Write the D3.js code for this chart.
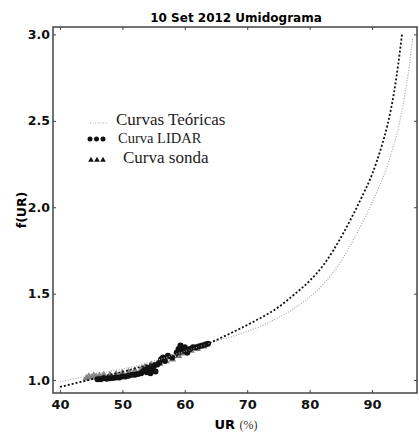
<!DOCTYPE html>
<html>
<head>
<meta charset="utf-8">
<script src="https://cdn.jsdelivr.net/npm/d3@7"></script>
<style>
  body { margin: 0; background: #fff; }
  .axis text { font-family: "DejaVu Sans", sans-serif; font-weight: bold; fill: #111; }
  .axis path { display: none; }
  .axis line { stroke: #444; }
</style>
</head>
<body>
<script>
// theoretical curves
var curveA_UR = [40, 44, 48, 52, 56, 60, 64, 67.8, 71.5, 74.7, 77.4, 80.1, 82.2, 83.8, 85.4, 87.0, 88.5, 90.0, 91.5, 92.5, 93.5, 94.2, 94.8];
var curveA_F  = [0.96, 0.995, 1.03, 1.067, 1.108, 1.158, 1.215, 1.279, 1.347, 1.414, 1.491, 1.578, 1.665, 1.751, 1.85, 1.96, 2.07, 2.19, 2.35, 2.48, 2.66, 2.83, 3.0];
var curveB_UR = [40, 44, 48, 52, 56, 60, 65.6, 69.9, 74.2, 77.9, 81.1, 83.8, 86.0, 87.6, 89.2, 90.8, 92.2, 93.4, 94.4, 95.2, 95.9, 96.5];
var curveB_F  = [0.99, 1.02, 1.05, 1.08, 1.12, 1.165, 1.231, 1.279, 1.347, 1.424, 1.515, 1.625, 1.745, 1.85, 1.965, 2.09, 2.215, 2.35, 2.49, 2.64, 2.80, 2.98];

// sonda (triangles)
var sondaUR = [44.2, 44.6, 45.0, 45.4, 45.8, 46.3, 47, 48, 49, 50, 51, 52, 53, 53.6, 54, 54.6, 55, 56, 57, 58, 59, 60, 61, 62, 63];
var sondaF  = [1.01, 1.02, 1.015, 1.025, 1.02, 1.025, 1.03, 1.03, 1.035, 1.04, 1.045, 1.055, 1.06, 1.075, 1.07, 1.09, 1.08, 1.095, 1.11, 1.12, 1.14, 1.155, 1.17, 1.18, 1.195];

// LIDAR (circles)
var lidarUR = [46.0, 46.5, 47.0, 47.5, 48.0, 48.5, 49.0, 49.5, 50.0, 50.5, 51.0, 51.5, 52.0, 52.5, 53.0, 53.3, 53.6, 53.9, 54.2, 54.5, 54.8, 55.0, 55.3, 55.6, 55.9, 56.2, 56.5, 56.8, 57.3, 58.0, 58.7, 59.0, 59.3, 59.6, 60.0, 60.4, 60.8, 61.3, 61.8, 62.3, 62.8, 63.3, 63.7];
var lidarF  = [1.005, 1.005, 1.01, 1.008, 1.01, 1.012, 1.015, 1.015, 1.02, 1.02, 1.025, 1.03, 1.03, 1.035, 1.04, 1.05, 1.06, 1.045, 1.07, 1.04, 1.06, 1.08, 1.05, 1.09, 1.10, 1.12, 1.13, 1.11, 1.14, 1.13, 1.16, 1.18, 1.20, 1.17, 1.19, 1.16, 1.18, 1.19, 1.19, 1.195, 1.20, 1.205, 1.21];

var xTicks = [40, 50, 60, 70, 80, 90];
var yTicks = [1.0, 1.5, 2.0, 2.5, 3.0];

var width = 419, height = 432;
var margin = {left: 53, right: 2, top: 27, bottom: 39};
var w = width - margin.left - margin.right;
var h = height - margin.top - margin.bottom;

var x = d3.scaleLinear().domain([38.88, 97.2]).range([0, w]);
var y = d3.scaleLinear().domain([0.925, 3.043]).range([h, 0]);

var svg = d3.select("body").append("svg").attr("width", width).attr("height", height);

svg.append("text")
   .attr("x", 236).attr("y", 22)
   .attr("text-anchor", "middle")
   .style("font-family", "DejaVu Sans, sans-serif")
   .style("font-weight", "bold").style("font-size", "12px")
   .text("10 Set 2012 Umidograma");

var g = svg.append("g").attr("transform", "translate(" + margin.left + "," + margin.top + ")");

var line = function(xs, ys) {
  return d3.line().curve(d3.curveMonotoneX)
           .x(function(d, i) { return x(xs[i]); })
           .y(function(d) { return y(d); })(ys);
};

// sonda triangles
g.selectAll(".tri").data(sondaF).enter().append("path")
  .attr("class", "tri")
  .attr("transform", function(d, i) { return "translate(" + x(sondaUR[i]) + "," + y(d) + ")"; })
  .attr("d", d3.symbol().type(d3.symbolTriangle).size(24))
  .attr("fill", "#808080");

// LIDAR circles
g.selectAll(".dot").data(lidarF).enter().append("circle")
  .attr("class", "dot")
  .attr("cx", function(d, i) { return x(lidarUR[i]); })
  .attr("cy", function(d) { return y(d); })
  .attr("r", 3)
  .attr("fill", "#111");

// theoretical curves
g.append("path").attr("d", line(curveB_UR, curveB_F))
  .attr("fill", "none").attr("stroke", "#aaa").attr("stroke-width", 1.2)
  .attr("stroke-dasharray", "1,1.6");
g.append("path").attr("d", line(curveA_UR, curveA_F))
  .attr("fill", "none").attr("stroke", "#111").attr("stroke-width", 1.8)
  .attr("stroke-dasharray", "2,2");

// axes, ticks pointing inside
g.append("g").attr("class", "axis").attr("transform", "translate(0," + h + ")")
  .call(d3.axisBottom(x).tickValues(xTicks).tickSize(-3).tickPadding(7).tickFormat(d3.format("d")))
  .selectAll("text").style("font-size", "13px");
g.append("g").attr("class", "axis")
  .call(d3.axisLeft(y).tickValues(yTicks).tickSize(-3).tickPadding(3).tickFormat(d3.format(".1f")))
  .selectAll("text").style("font-size", "12.5px");
g.append("g").attr("class", "axis")
  .call(d3.axisTop(x).tickValues(xTicks).tickSize(-3).tickFormat(""));
g.append("g").attr("class", "axis").attr("transform", "translate(" + w + ",0)")
  .call(d3.axisRight(y).tickValues(yTicks).tickSize(-3).tickFormat(""));

g.append("rect").attr("width", w).attr("height", h)
  .attr("fill", "none").attr("stroke", "#444").attr("stroke-width", 1.5);

// axis titles
svg.append("text")
   .attr("transform", "translate(26,210) rotate(-90)")
   .attr("text-anchor", "middle")
   .style("font-family", "DejaVu Sans, sans-serif")
   .style("font-weight", "bold").style("font-size", "12.5px")
   .text("f(UR)");
var xl = svg.append("text").attr("x", 236).attr("y", 429).attr("text-anchor", "middle");
xl.append("tspan").style("font-family", "DejaVu Sans, sans-serif").style("font-weight", "bold").style("font-size", "13px").text("UR ");
xl.append("tspan").style("font-family", "Liberation Serif, serif").style("font-size", "12px").attr("fill", "#333").text("(%)");

// legend
var leg = svg.append("g");
leg.append("line").attr("x1", 90).attr("x2", 107).attr("y1", 123).attr("y2", 123)
   .attr("stroke", "#aaa").attr("stroke-width", 1.2).attr("stroke-dasharray", "1,1.6");
leg.selectAll(".ld").data([90, 96.5, 103]).enter().append("circle")
   .attr("cx", function(d) { return d; }).attr("cy", 139).attr("r", 2.5).attr("fill", "#111");
leg.selectAll(".lt").data([91, 97, 103]).enter().append("path")
   .attr("transform", function(d) { return "translate(" + d + ",160)"; })
   .attr("d", d3.symbol().type(d3.symbolTriangle).size(14)).attr("fill", "#111");
var legText = [["Curvas Teóricas", 116, 125, 17], ["Curva LIDAR", 118, 143, 14.5], ["Curva sonda", 123, 163, 17]];
leg.selectAll(".lx").data(legText).enter().append("text")
   .attr("x", function(d) { return d[1]; }).attr("y", function(d) { return d[2]; })
   .style("font-family", "Liberation Serif, serif")
   .style("font-size", function(d) { return d[3] + "px"; })
   .attr("fill", "#222")
   .text(function(d) { return d[0]; });
</script>
</body>
</html>
